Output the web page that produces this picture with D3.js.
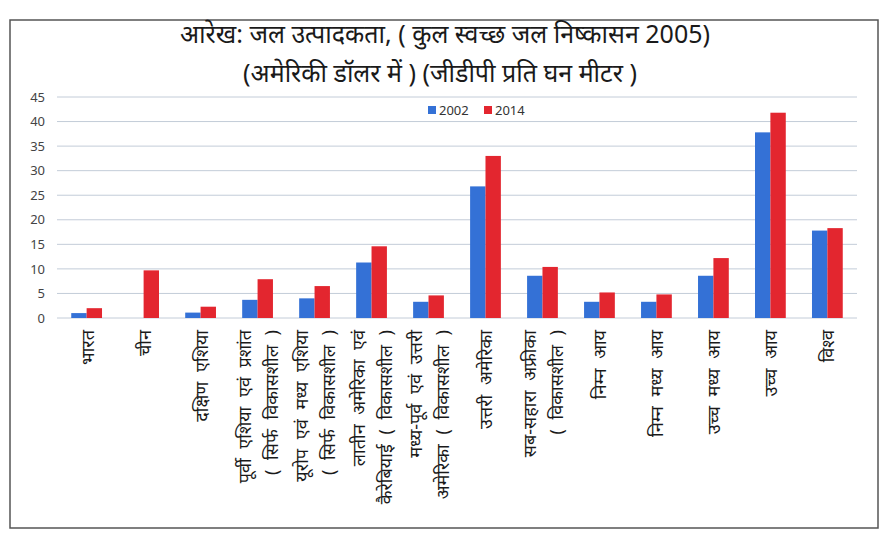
<!DOCTYPE html>
<html>
<head>
<meta charset="utf-8">
<script src="https://cdn.jsdelivr.net/npm/d3@7"></script>
<style>
  body { margin: 0; background: #fff; }
  svg { font-family: "Noto Sans", "DejaVu Sans", sans-serif; }
</style>
</head>
<body>
<svg width="888" height="534"></svg>
<script>
// categories, each split into the lines used under the axis
const categories = [
  ['भारत'],
  ['चीन'],
  ['दक्षिण एशिया'],
  ['पूर्वी एशिया एवं प्रशांत', '( सिर्फ विकासशील )'],
  ['यूरोप एवं मध्य एशिया', '( सिर्फ विकासशील )'],
  ['लातीन अमेरिका एवं', 'कैरेबियाई ( विकासशील )'],
  ['मध्य-पूर्व एवं उत्तरी', 'अमेरिका ( विकासशील )'],
  ['उत्तरी अमेरिका'],
  ['सब-सहारा अफ्रीका', '( विकासशील )'],
  ['निम्न आय'],
  ['निम्न मध्य आय'],
  ['उच्च मध्य आय'],
  ['उच्च आय'],
  ['विश्व']
];
const series = ['2002', '2014'];
const values2002 = [1.0, 0, 1.1, 3.7, 4.0, 11.3, 3.3, 26.8, 8.6, 3.3, 3.3, 8.6, 37.8, 17.8];
const values2014 = [2.0, 9.7, 2.3, 7.9, 6.5, 14.6, 4.6, 33.0, 10.4, 5.2, 4.8, 12.2, 41.8, 18.3];
const yTicks = [0, 5, 10, 15, 20, 25, 30, 35, 40, 45];
const colors = ['#3471d6', '#e3262f'];

const svg = d3.select('svg');

// outer frame
svg.append('rect')
  .attr('x', 10).attr('y', 20)
  .attr('width', 868).attr('height', 508)
  .attr('fill', 'none')
  .attr('stroke', '#555')
  .attr('stroke-width', 1.5);

// title
svg.append('text')
  .attr('x', 445).attr('y', 43)
  .attr('text-anchor', 'middle')
  .attr('font-size', 25)
  .attr('fill', '#1a1a1a')
  .text('आरेख: जल उत्पादकता, ( कुल स्वच्छ जल निष्कासन 2005)');
svg.append('text')
  .attr('x', 440).attr('y', 82)
  .attr('text-anchor', 'middle')
  .attr('font-size', 25)
  .attr('fill', '#1a1a1a')
  .text('(अमेरिकी डॉलर में ) (जीडीपी प्रति घन मीटर )');

const margin = { left: 57, right: 857, top: 97, bottom: 318 };

const x = d3.scaleBand()
  .domain(d3.range(categories.length))
  .range([margin.left, margin.right])
  .paddingInner(0.46)
  .paddingOuter(0.25);

const xs = d3.scaleBand()
  .domain(series)
  .range([0, x.bandwidth()]);

const y = d3.scaleLinear()
  .domain([0, 45])
  .range([margin.bottom, margin.top]);

// grid lines
svg.append('g')
  .selectAll('line')
  .data(yTicks)
  .join('line')
  .attr('x1', margin.left).attr('x2', margin.right)
  .attr('y1', d => y(d)).attr('y2', d => y(d))
  .attr('stroke', '#c3ccd8')
  .attr('stroke-width', 1);

// y axis labels
const yAxis = svg.append('g')
  .attr('transform', `translate(${margin.left},0)`)
  .call(d3.axisLeft(y).tickValues(yTicks).tickSize(0).tickPadding(12));
yAxis.select('.domain').remove();
yAxis.selectAll('text')
  .attr('font-size', 13)
  .attr('fill', '#444')
  .attr('font-family', '"Noto Sans", sans-serif');

// bars
const data = categories.map((c, i) => ({ i, vals: [values2002[i], values2014[i]] }));
const groups = svg.append('g')
  .selectAll('g')
  .data(data)
  .join('g')
  .attr('transform', d => `translate(${x(d.i)},0)`);

groups.selectAll('rect')
  .data(d => d.vals.map((v, k) => ({ key: series[k], v, k })))
  .join('rect')
  .attr('x', d => xs(d.key))
  .attr('y', d => y(d.v))
  .attr('width', xs.bandwidth())
  .attr('height', d => y(0) - y(d.v))
  .attr('fill', d => colors[d.k]);

// category labels, rotated, read bottom to top
const labels = svg.append('g');
categories.forEach((lines, i) => {
  const cx = x(i) + x.bandwidth() / 2;
  const n = lines.length;
  lines.forEach((line, j) => {
    const lx = cx + (j - (n - 1) / 2) * 27 + 7;
    labels.append('text')
      .attr('transform', `translate(${lx},${margin.bottom + 12}) rotate(-90)`)
      .attr('text-anchor', 'end')
      .attr('font-size', 18)
      .attr('word-spacing', 5)
      .attr('fill', '#1a1a1a')
      .text(line);
  });
});

// legend
const legend = svg.append('g').attr('transform', 'translate(428,110)');
series.forEach((s, k) => {
  const lg = legend.append('g').attr('transform', `translate(${k * 56},0)`);
  lg.append('rect')
    .attr('x', 0).attr('y', -4)
    .attr('width', 8).attr('height', 8)
    .attr('fill', colors[k]);
  lg.append('text')
    .attr('x', 11).attr('y', 4.5)
    .attr('font-size', 13)
    .attr('fill', '#333')
    .text(s);
});
</script>
</body>
</html>
